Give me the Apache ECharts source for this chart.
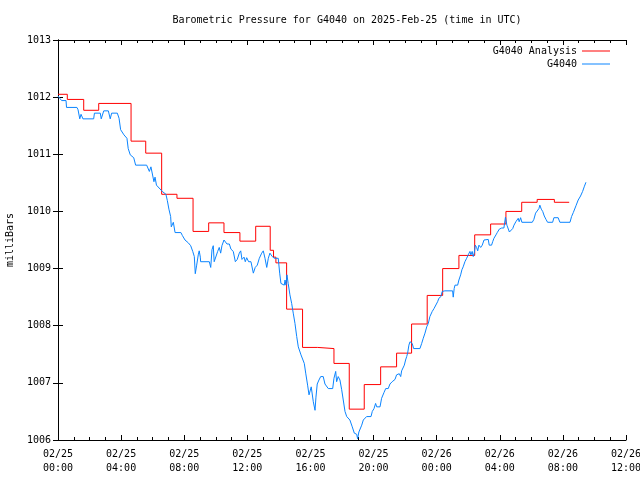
<!DOCTYPE html>
<html>
<head>
<meta charset="utf-8">
<script src="https://cdn.jsdelivr.net/npm/echarts@6/dist/echarts.min.js"></script>
<style>
html,body{margin:0;padding:0;background:#fff;}
#chart{width:640px;height:480px;}
</style>
</head>
<body>
<div id="chart"></div>
<script>
// Hours since 2025-02-25 00:00 UTC
var xTickLabels = ["02/25\n00:00","02/25\n04:00","02/25\n08:00","02/25\n12:00","02/25\n16:00","02/25\n20:00","02/26\n00:00","02/26\n04:00","02/26\n08:00","02/26\n12:00"];
var yTicks = [1006,1007,1008,1009,1010,1011,1012,1013];

var analysisTimes = [0,0.59,1.63,2.58,4.63,5.56,6.57,7.54,8.56,9.55,10.52,11.53,12.53,13.45,13.66,13.81,14.49,15.50,16.46,17.49,18.46,19.41,20.45,21.46,22.41,23.40,24.38,25.41,26.41,27.42,28.39,29.39,30.37,31.46,32.40];
var analysisValues = [1012.05,1011.96,1011.77,1011.89,1011.23,1011.02,1010.30,1010.23,1009.65,1009.80,1009.63,1009.48,1009.74,1009.32,1009.20,1009.10,1008.29,1007.62,1007.60,1007.34,1006.54,1006.97,1007.28,1007.52,1008.03,1008.53,1009.00,1009.23,1009.59,1009.78,1010.00,1010.16,1010.21,1010.16,1010.16];

var obsTimes = [0,0.11,0.23,0.51,0.54,1.20,1.27,1.38,1.46,1.58,2.26,2.31,2.68,2.74,2.90,3.19,3.31,3.40,3.76,3.87,3.97,4.18,4.37,4.45,4.58,4.69,4.80,4.92,5.62,5.79,5.89,6.08,6.15,6.24,6.61,6.84,6.93,7.03,7.14,7.18,7.31,7.42,7.79,7.88,8.05,8.26,8.41,8.54,8.64,8.70,8.79,8.89,8.95,9.02,9.04,9.59,9.68,9.76,9.84,9.90,10.01,10.12,10.22,10.31,10.39,10.52,10.63,10.71,10.86,10.96,11.11,11.24,11.36,11.49,11.58,11.66,11.79,11.87,11.96,12.08,12.23,12.38,12.50,12.63,12.76,12.91,13.01,13.12,13.23,13.33,13.43,13.50,13.58,13.71,13.96,14.05,14.13,14.21,14.34,14.39,14.45,14.51,14.59,14.70,14.81,14.91,15.02,15.13,15.23,15.34,15.40,15.51,15.61,15.70,15.82,15.91,15.99,16.05,16.18,16.29,16.35,16.43,16.54,16.65,16.81,16.92,17.13,17.41,17.49,17.60,17.66,17.76,17.87,17.98,18.08,18.19,18.30,18.50,18.65,18.78,18.93,18.99,19.07,19.18,19.25,19.35,19.45,19.56,19.84,19.92,20.03,20.13,20.20,20.41,20.51,20.66,20.77,20.93,21.04,21.18,21.36,21.46,21.63,21.72,21.78,21.95,22.03,22.10,22.16,22.24,22.31,22.37,22.45,22.54,22.94,23.05,23.15,23.26,23.37,23.47,23.57,23.72,23.83,23.94,24.06,24.14,24.27,24.35,24.52,25.01,25.05,25.11,25.16,25.33,25.41,25.52,25.60,25.68,25.79,25.90,26.00,26.11,26.17,26.25,26.32,26.38,26.45,26.53,26.60,26.68,26.79,26.89,27.00,27.06,27.27,27.33,27.48,27.55,27.63,27.76,27.84,27.97,28.12,28.26,28.36,28.45,28.61,28.69,28.82,28.90,29.02,29.17,29.23,29.32,29.40,30.06,30.16,30.27,30.37,30.48,30.54,30.63,30.72,30.82,30.93,31.03,31.35,31.43,31.70,31.81,32.45,32.55,32.66,32.83,32.97,33.12,33.25,33.35,33.46];
var obsValues = [1012.02,1011.98,1011.94,1011.94,1011.82,1011.82,1011.78,1011.62,1011.70,1011.62,1011.62,1011.72,1011.72,1011.62,1011.76,1011.76,1011.62,1011.72,1011.72,1011.63,1011.43,1011.34,1011.28,1011.10,1010.99,1011.02,1010.94,1010.81,1010.81,1010.70,1010.78,1010.52,1010.60,1010.46,1010.35,1010.30,1010.19,1010.04,1009.91,1009.73,1009.81,1009.63,1009.63,1009.58,1009.50,1009.45,1009.40,1009.30,1009.21,1008.91,1009.06,1009.24,1009.31,1009.20,1009.12,1009.12,1009.02,1009.33,1009.40,1009.12,1009.12,1009.30,1009.37,1009.27,1009.40,1009.50,1009.52,1009.43,1009.43,1009.34,1009.30,1009.12,1009.16,1009.27,1009.31,1009.16,1009.20,1009.12,1009.19,1009.12,1009.12,1008.92,1009.02,1009.06,1009.18,1009.27,1009.31,1009.18,1009.02,1009.18,1009.27,1009.30,1009.21,1009.18,1009.18,1008.92,1008.74,1008.71,1008.71,1008.80,1008.71,1008.89,1008.74,1008.54,1008.39,1008.22,1008.04,1007.81,1007.63,1007.60,1007.49,1007.46,1007.34,1007.17,1006.96,1006.79,1006.82,1006.93,1006.67,1006.52,1006.75,1006.98,1007.05,1007.11,1007.11,1006.98,1006.90,1006.90,1007.08,1007.20,1007.02,1007.11,1007.05,1006.88,1006.70,1006.50,1006.41,1006.35,1006.23,1006.12,1006.10,1006.02,1006.14,1006.16,1006.26,1006.35,1006.32,1006.41,1006.41,1006.50,1006.55,1006.64,1006.58,1006.58,1006.73,1006.83,1006.90,1006.90,1006.98,1007.02,1007.06,1007.14,1007.16,1007.11,1007.21,1007.31,1007.40,1007.46,1007.52,1007.66,1007.72,1007.75,1007.69,1007.60,1007.60,1007.69,1007.78,1007.87,1007.98,1008.04,1008.16,1008.25,1008.30,1008.33,1008.42,1008.48,1008.51,1008.60,1008.61,1008.61,1008.50,1008.65,1008.71,1008.71,1008.80,1008.89,1008.98,1009.03,1009.12,1009.18,1009.24,1009.30,1009.24,1009.30,1009.21,1009.27,1009.41,1009.37,1009.31,1009.41,1009.37,1009.41,1009.50,1009.51,1009.51,1009.41,1009.41,1009.47,1009.53,1009.59,1009.63,1009.69,1009.71,1009.71,1009.90,1009.76,1009.64,1009.62,1009.70,1009.76,1009.82,1009.88,1009.82,1009.89,1009.81,1009.81,1009.86,1009.97,1010.00,1010.05,1010.11,1010.04,1010.00,1009.92,1009.86,1009.81,1009.81,1009.89,1009.89,1009.81,1009.81,1009.91,1009.98,1010.10,1010.20,1010.27,1010.35,1010.43,1010.51];

function pairs(t, v){ var out=[]; for (var i=0;i<t.length;i++) out.push([t[i], v[i]]); return out; }

var FONT = '"DejaVu Sans Mono", "Liberation Mono", monospace';
var chart = echarts.init(document.getElementById('chart'), null, {renderer:'canvas'});

var tickCommon = {show:true, inside:true, length:5, lineStyle:{color:'#000', width:1}};
var minorCommon = {show:true, splitNumber:4, length:3, lineStyle:{color:'#000', width:1}};

chart.setOption({
  animation:false,
  backgroundColor:'#fff',
  title:{
    text:'Barometric Pressure for G4040 on 2025-Feb-25 (time in UTC)',
    left:342, textAlign:'center', top:10,
    textStyle:{fontFamily:FONT, fontSize:10, fontWeight:'normal', color:'#000'}
  },
  legend:[
    {data:['G4040 Analysis'], right:30, top:46, padding:0, align:'right', icon:'rect', itemWidth:28, itemHeight:1,
     textStyle:{fontFamily:FONT, fontSize:10, color:'#000'}},
    {data:['G4040'], right:30, top:59, padding:0, align:'right', icon:'rect', itemWidth:28, itemHeight:1,
     textStyle:{fontFamily:FONT, fontSize:10, color:'#000'}}
  ],
  grid:{left:58, right:14, top:40, bottom:40, show:false, containLabel:false, outerBoundsMode:'none'},
  xAxis:[
    {type:'value', position:'bottom', min:0, max:36, interval:4,
     axisLine:{show:true, lineStyle:{color:'#000', width:1}},
     axisTick:tickCommon, minorTick:minorCommon, splitLine:{show:false},
     axisLabel:{margin:7, fontFamily:FONT, fontSize:10, color:'#000', lineHeight:14,
       formatter:function(v){ return xTickLabels[Math.round(v/4)]; }}},
    {type:'value', position:'top', min:0, max:36, interval:4,
     axisLine:{show:true, lineStyle:{color:'#000', width:1}},
     axisTick:tickCommon, minorTick:minorCommon, splitLine:{show:false},
     axisLabel:{show:false}}
  ],
  yAxis:[
    {type:'value', position:'left', min:yTicks[0], max:yTicks[yTicks.length-1], interval:1,
     name:'milliBars', nameLocation:'middle', nameRotate:90, nameGap:43,
     nameTextStyle:{fontFamily:FONT, fontSize:10, color:'#000'},
     axisLine:{show:true, lineStyle:{color:'#000', width:1}},
     axisTick:tickCommon, splitLine:{show:false},
     axisLabel:{margin:7, fontFamily:FONT, fontSize:10, color:'#000',
       formatter:function(v){ return String(v); }}},
    {type:'value', position:'right', min:yTicks[0], max:yTicks[yTicks.length-1], interval:1,
     axisLine:{show:true, lineStyle:{color:'#000', width:1}},
     axisTick:tickCommon, splitLine:{show:false},
     axisLabel:{show:false}}
  ],
  series:[
    {name:'G4040 Analysis', type:'line', step:'end', data:pairs(analysisTimes, analysisValues),
     xAxisIndex:0, yAxisIndex:0, symbol:'none', color:'#ff0000',
     lineStyle:{color:'#ff0000', width:1}},
    {name:'G4040', type:'line', data:pairs(obsTimes, obsValues),
     xAxisIndex:0, yAxisIndex:0, symbol:'none', color:'#0a84ff',
     lineStyle:{color:'#0a84ff', width:1}}
  ]
});
</script>
</body>
</html>
